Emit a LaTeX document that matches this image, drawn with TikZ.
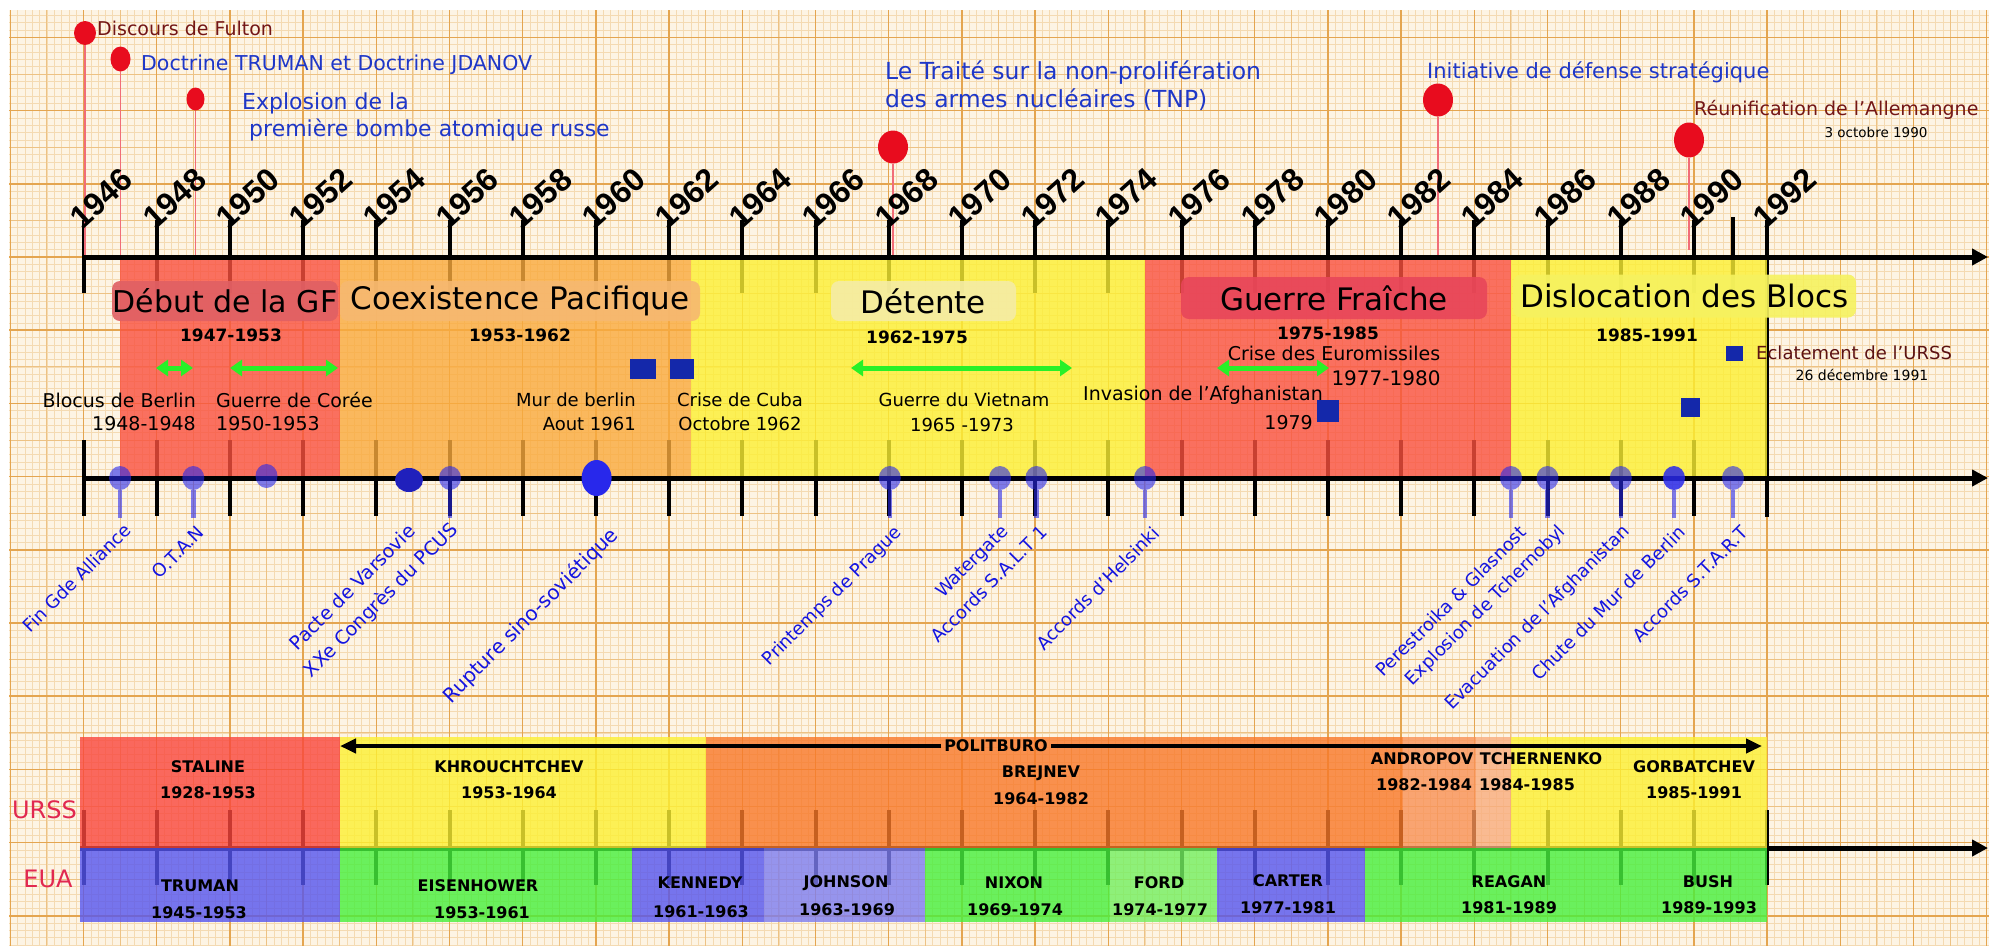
\documentclass[tikz,border=0pt]{standalone}
\usepackage{fontspec}
\setmainfont{DejaVu Sans}
\newfontfamily\yrfont{Liberation Sans}
\usetikzlibrary{arrows.meta,shapes.geometric}
\newcommand\myfs[1]{\fontsize{#1}{#1}\selectfont}
\definecolor{paper}{RGB}{253,244,228}
\definecolor{gfinec}{RGB}{244,218,178}
\definecolor{gmedc}{RGB}{237,194,132}
\definecolor{gmajc}{RGB}{228,165,80}
\definecolor{bandred}{RGB}{250,80,62}
\definecolor{bandorange}{RGB}{250,170,60}
\definecolor{bandyellow}{RGB}{252,240,50}
\definecolor{boxred}{RGB}{224,96,100}
\definecolor{boxorange}{RGB}{246,184,112}
\definecolor{boxyellow}{RGB}{245,236,165}
\definecolor{boxcrimson}{RGB}{232,70,90}
\definecolor{boxlemon}{RGB}{246,242,95}
\definecolor{pinred}{RGB}{232,12,30}
\definecolor{txtblue}{RGB}{30,55,200}
\definecolor{txtbrown}{RGB}{115,22,22}
\definecolor{evblue}{RGB}{20,20,225}
\definecolor{pinblue}{RGB}{40,40,235}
\definecolor{sqblue}{RGB}{20,40,170}
\definecolor{arrgreen}{RGB}{40,240,40}
\definecolor{ussrred}{RGB}{250,70,60}
\definecolor{brejorange}{RGB}{248,120,40}
\definecolor{andorange}{RGB}{248,145,85}
\definecolor{tchpeach}{RGB}{248,172,125}
\definecolor{usblue}{RGB}{85,85,240}
\definecolor{usblue2}{RGB}{125,125,240}
\definecolor{usgreen}{RGB}{70,240,60}
\definecolor{usgreen2}{RGB}{115,240,95}
\definecolor{labelred}{RGB}{225,40,80}
\tikzset{
 gfine/.style={draw=gfinec, line width=0.6pt},
 gmed/.style={draw=gmedc, line width=1pt},
 gmaj/.style={draw=gmajc, line width=1.5pt},
 axisline/.style={line width=5pt, black, -{Triangle[length=16pt,width=16pt]}},
 tickline/.style={line width=4pt, black},
 bandfill/.style={fill opacity=0.8},
 redpin/.style={ellipse, fill=pinred, inner sep=0pt},
 pinstem/.style={draw=pinred!60, line width=1.2pt},
 bluepin/.style={ellipse, fill=pinblue, fill opacity=0.6, inner sep=0pt, minimum width=22pt, minimum height=24pt},
 darkpin/.style={ellipse, fill=pinblue!80!black, inner sep=0pt},
 bluestem/.style={line width=4.5pt, draw=pinblue, draw opacity=0.6},
 evlabel/.style={text=evblue, font=\myfs{18}, rotate=45, anchor=east, inner sep=0pt},
 yearlbl/.style={font=\yrfont\bfseries\myfs{32}, rotate=42, anchor=south west, inner sep=0pt},
 sqbox/.style={fill=sqblue, inner sep=0pt},
 garrow/.style={line width=5pt, arrgreen, {Triangle[length=12pt,width=16pt]}-{Triangle[length=12pt,width=16pt]}},
 titlebox/.style={rounded corners=8pt, inner sep=0pt, font=\myfs{31}, fill opacity=0.9, text opacity=1},
 datelbl/.style={font=\bfseries\myfs{17}},
 evtext/.style={font=\myfs{19}, inner sep=0pt},
 lowtxt/.style={font=\bfseries\myfs{16}},
 toptxt/.style={anchor=west, inner sep=0pt, text=txtblue, font=\myfs{20}},
 polarrow/.style={line width=4pt, black, -{Triangle[length=16pt,width=14pt]}},
}
\begin{document}
\begin{tikzpicture}[x=1pt,y=-1pt]
\useasboundingbox (0,0) rectangle (1989,946);
\fill[white] (0,0) rectangle (1989,946);
\fill[paper] (9,10) rectangle (1989,946);
% graph paper
\begin{scope}
\clip (9,10) rectangle (1989,946);
\foreach \x in {10.3,17.62,...,1990} \draw[gfine] (\x,0) -- (\x,946);
\foreach \y in {0.8,8.12,...,950} \draw[gfine] (0,\y) -- (1989,\y);
\foreach \x in {10.3,46.9,...,1990} \draw[gmed] (\x,0) -- (\x,946);
\foreach \y in {0.8,37.4,...,950} \draw[gmed] (0,\y) -- (1989,\y);
\foreach \x in {10.3,83.5,...,1990} \draw[gmaj] (\x,0) -- (\x,946);
\foreach \y in {37.4,110.6,...,950} \draw[gmaj] (0,\y) -- (1989,\y);
\end{scope}
% ticks
\foreach \k in {0,...,23}{
 \pgfmathsetmacro\xx{83.5+73.2*\k}
 \draw[tickline] (\xx,220) -- (\xx,293);
 \draw[tickline] (\xx,440) -- (\xx,516);
 \draw[tickline] (\xx,810) -- (\xx,885);
}
\draw[tickline] (1732.6,217) -- (1732.6,290);
\draw[tickline] (1767.1,222) -- (1767.1,517);
% bottom axis (under the bands)
\coordinate (bA) at (80,848);
\coordinate (bB) at (1988,848);
\draw[axisline] (bA) -- (bB);
% red pins
\node[redpin, minimum width=22pt, minimum height=24pt] (pFul) at (85,33) {};
\node[redpin, minimum width=20pt, minimum height=25pt] (pDoc) at (120.5,59) {};
\node[redpin, minimum width=18pt, minimum height=23pt] (pExp) at (195.5,99) {};
\node[redpin, minimum width=30pt, minimum height=33pt] (pTNP) at (893,147) {};
\node[redpin, minimum width=30pt, minimum height=33pt] (pIDS) at (1438,100) {};
\node[redpin, minimum width=30pt, minimum height=35pt] (pReu) at (1689,140) {};
\coordinate (cFul) at (85,257);
\coordinate (cDoc) at (120.5,257);
\coordinate (cExp) at (195.5,257);
\coordinate (cTNP) at (893,257);
\coordinate (cIDS) at (1438,257);
\coordinate (cReu) at (1689,250);
\draw[pinstem] (pFul) -- (cFul);
\draw[pinstem] (pDoc) -- (cDoc);
\draw[pinstem] (pExp) -- (cExp);
\draw[pinstem] (pTNP) -- (cTNP);
\draw[pinstem] (pIDS) -- (cIDS);
\draw[pinstem] (pReu) -- (cReu);
% period bands
\fill[bandred, bandfill] (120.1,257) rectangle (339.7,478);
\fill[bandorange, bandfill] (339.7,257) rectangle (691,478);
\fill[bandyellow, bandfill] (691,257) rectangle (1145,478);
\fill[bandred, bandfill] (1145,257) rectangle (1511,478);
\fill[bandyellow, bandfill] (1511,257) rectangle (1767.1,478);
% leaders bands URSS
\fill[ussrred, bandfill] (80,737) rectangle (339.7,848);
\fill[bandyellow, bandfill] (339.7,737) rectangle (706,848);
\fill[brejorange, bandfill] (706,737) rectangle (1402.9,848);
\fill[andorange, bandfill] (1402.9,737) rectangle (1476.2,848);
\fill[tchpeach, bandfill] (1476.2,737) rectangle (1511,848);
\fill[bandyellow, bandfill] (1511,737) rectangle (1767.1,848);
% leaders bands EUA
\fill[usblue, bandfill] (80,848) rectangle (339.7,922);
\fill[usgreen, bandfill] (339.7,848) rectangle (632,922);
\fill[usblue, bandfill] (632,848) rectangle (764,922);
\fill[usblue2, bandfill] (764,848) rectangle (924.5,922);
\fill[usgreen, bandfill] (924.5,848) rectangle (1109.7,922);
\fill[usgreen2, bandfill] (1109.7,848) rectangle (1217,922);
\fill[usblue, bandfill] (1217,848) rectangle (1365,922);
\fill[usgreen, bandfill] (1365,848) rectangle (1767.1,922);
% top and middle axes
\coordinate (tA) at (83.5,257);
\coordinate (tB) at (1988,257);
\draw[axisline] (tA) -- (tB);
\coordinate (mA) at (83.5,478);
\coordinate (mB) at (1988,478);
\draw[axisline] (mA) -- (mB);
% year labels
\foreach \k in {0,...,23}{
 \pgfmathsetmacro\xx{83.5+73.2*\k}
 \pgfmathtruncatemacro\yy{1946+2*\k}
 \node[yearlbl] (y\yy) at (\xx-1,231) {\yy};
}
% top texts
\node[toptxt, text=txtbrown, font=\myfs{19}] (tFul) at (97,28) {Discours de Fulton};
\node[toptxt, font=\myfs{20.5}] (tDoc) at (141,65) {Doctrine TRUMAN et Doctrine JDANOV};
\node[toptxt, font=\myfs{22}] (tExp1) at (242,103) {Explosion de la};
\node[toptxt, font=\myfs{22}] (tExp2) at (249,130) {première bombe atomique russe};
\node[toptxt, font=\myfs{23.5}] (tTNP1) at (885,73) {Le Traité sur la non-prolifération};
\node[toptxt, font=\myfs{23.5}] (tTNP2) at (885,100) {des armes nucléaires (TNP)};
\node[toptxt, font=\myfs{21}] (tIDS) at (1427,72) {Initiative de défense stratégique};
\node[toptxt, text=txtbrown, font=\myfs{19}] (tReu) at (1694,110) {Réunification de l'Allemangne};
\node[inner sep=0pt, font=\myfs{13.5}] (tReu2) at (1876,132) {3 octobre 1990};
% period titles
\node[titlebox, fill=boxred, font=\myfs{30}, minimum width=226pt, minimum height=40pt] (hGF) at (225,301) {Début de la GF};
\node[titlebox, fill=boxorange, minimum width=360pt, minimum height=40pt] (hCP) at (520,301) {Coexistence Pacifique};
\node[titlebox, fill=boxyellow, minimum width=185pt, minimum height=40pt] (hDT) at (923.5,301) {Détente};
\node[titlebox, fill=boxcrimson, minimum width=306pt, minimum height=42pt] (hGFr) at (1334,298) {Guerre Fraîche};
\node[titlebox, fill=boxlemon, minimum width=343pt, minimum height=43pt] (hDB) at (1684.5,296) {Dislocation des Blocs};
\node[datelbl] (d1) at (231,335) {1947-1953};
\node[datelbl] (d2) at (520,335) {1953-1962};
\node[datelbl] (d3) at (917,337) {1962-1975};
\node[datelbl] (d4) at (1328,333) {1975-1985};
\node[datelbl] (d5) at (1647,335) {1985-1991};
% green arrows
\coordinate (gA1) at (156,368); \coordinate (gA2) at (193,368);
\coordinate (gB1) at (230,368); \coordinate (gB2) at (338,368);
\coordinate (gC1) at (851,368); \coordinate (gC2) at (1072,368);
\coordinate (gD1) at (1217,368); \coordinate (gD2) at (1329,368);
\draw[garrow] (gA1) -- (gA2);
\draw[garrow] (gB1) -- (gB2);
\draw[garrow] (gC1) -- (gC2);
\draw[garrow] (gD1) -- (gD2);
% event texts
\node[evtext, anchor=east] (eBlo) at (196,400) {Blocus de Berlin};
\node[evtext, anchor=east] (eBlo2) at (196,424) {1948-1948};
\node[evtext, anchor=west] (eCor) at (216,400) {Guerre de Corée};
\node[evtext, anchor=west] (eCor2) at (216,424) {1950-1953};
\node[evtext, font=\myfs{18}, anchor=east] (eMur) at (636,400) {Mur de berlin};
\node[evtext, font=\myfs{18}, anchor=east] (eMur2) at (636,424) {Aout 1961};
\node[evtext, font=\myfs{18}] (eCub) at (740,400) {Crise de Cuba};
\node[evtext, font=\myfs{18}] (eCub2) at (740,424) {Octobre 1962};
\node[evtext, font=\myfs{18}] (eVie) at (964,400) {Guerre du Vietnam};
\node[evtext, font=\myfs{18}] (eVie2) at (962,425) {1965 -1973};
\node[evtext, anchor=east] (eAfg) at (1323,395) {Invasion de l'Afghanistan};
\node[evtext, anchor=east] (eAfg2) at (1313,423) {1979};
\node[evtext] (eEur) at (1334,353) {Crise des Euromissiles};
\node[evtext, font=\myfs{20}] (eEur2) at (1386,378) {1977-1980};
% blue squares
\node[sqbox, minimum width=26pt, minimum height=20pt] (q1) at (643,369) {};
\node[sqbox, minimum width=24pt, minimum height=20pt] (q2) at (682,369) {};
\node[sqbox, minimum width=22pt, minimum height=22pt] (q3) at (1328,411) {};
\node[sqbox, minimum width=17pt, minimum height=15pt] (q4) at (1734.5,353.5) {};
\node[sqbox, minimum width=19pt, minimum height=19pt] (q5) at (1690.5,407.5) {};
\node[anchor=west, inner sep=0pt, text=txtbrown!80!black, font=\myfs{18}] (tEcl) at (1756,353) {Eclatement de l'URSS};
\node[inner sep=0pt, font=\myfs{14}] (tEcl2) at (1862,375) {26 décembre 1991};
% blue pins on middle axis
\node[bluepin] (b47) at (120.1,478) {};
\node[bluepin] (b49) at (193.3,478) {};
\node[bluepin] (b51) at (266.5,476) {};
\node[darkpin, minimum width=28pt, minimum height=24pt] (b55) at (409,480) {};
\node[bluepin] (b56) at (450,478) {};
\node[darkpin, fill=pinblue, minimum width=30pt, minimum height=36pt] (b60) at (596.6,478) {};
\node[bluepin] (b68) at (889.8,478) {};
\node[bluepin] (b71) at (1000,478) {};
\node[bluepin] (b72) at (1036.4,478) {};
\node[bluepin] (b75) at (1145,478) {};
\node[bluepin] (b85) at (1511,478) {};
\node[bluepin] (b86) at (1547.5,478) {};
\node[bluepin] (b88) at (1620.8,478) {};
\node[bluepin, fill opacity=0.85] (b89) at (1674,478) {};
\node[bluepin] (b91) at (1733,478) {};
\foreach \n/\x in {47/120.1,49/193.3,56/450,68/889.8,71/1000,72/1036.4,75/1145,85/1511,86/1547.5,88/1620.8,89/1674,91/1733}{
 \coordinate (s\n) at (\x,518);
 \draw[bluestem] (b\n) -- (s\n);
}
\node[evlabel] (l47) at (128,527) {Fin Gde Alliance};
\node[evlabel] (l49) at (201,529) {O.T.A.N};
\node[evlabel, font=\myfs{19}] (l55) at (412,527) {Pacte de Varsovie};
\node[evlabel, font=\myfs{19}] (l56) at (455,527) {XXe Congrès du PCUS};
\node[evlabel, font=\myfs{20}] (l60) at (615,532) {Rupture sino-soviétique};
\node[evlabel] (l68) at (899,530) {Printemps de Prague};
\node[evlabel] (l71) at (1006,529) {Watergate};
\node[evlabel] (l72) at (1044,529) {Accords S.A.L.T 1};
\node[evlabel] (l75) at (1156,530) {Accords d'Helsinki};
\node[evlabel] (l85) at (1523,529) {Perestroika \& Glasnost};
\node[evlabel] (l86) at (1563,529) {Explosion de Tchernobyl};
\node[evlabel] (l88) at (1627,529) {Evacuation de l'Afghanistan};
\node[evlabel] (l89) at (1682,529) {Chute du Mur de Berlin};
\node[evlabel] (l91) at (1745,529) {Accords S.T.A.R.T};
% politburo
\node[lowtxt, inner sep=3pt] (pol) at (996,746) {POLITBURO};
\coordinate (polL) at (340,746);
\coordinate (polR) at (1762,746);
\draw[polarrow] (pol.west) -- (polL);
\draw[polarrow] (pol.east) -- (polR);
% leaders
\node[lowtxt] (nSta) at (208,767) {STALINE};
\node[lowtxt] (nSta2) at (208,793) {1928-1953};
\node[lowtxt] (nKhr) at (509,767) {KHROUCHTCHEV};
\node[lowtxt] (nKhr2) at (509,793) {1953-1964};
\node[lowtxt] (nBre) at (1041,773) {BREJNEV};
\node[lowtxt] (nBre2) at (1041,799) {1964-1982};
\node[lowtxt] (nAnd) at (1422,759) {ANDROPOV};
\node[lowtxt] (nAnd2) at (1424,785) {1982-1984};
\node[lowtxt] (nTch) at (1541,759) {TCHERNENKO};
\node[lowtxt] (nTch2) at (1527,785) {1984-1985};
\node[lowtxt] (nGor) at (1694,767) {GORBATCHEV};
\node[lowtxt] (nGor2) at (1694,793) {1985-1991};
\node[lowtxt] (nTru) at (200,886) {TRUMAN};
\node[lowtxt] (nTru2) at (199,913) {1945-1953};
\node[lowtxt] (nEis) at (478,886) {EISENHOWER};
\node[lowtxt] (nEis2) at (482,913) {1953-1961};
\node[lowtxt] (nKen) at (700,883) {KENNEDY};
\node[lowtxt] (nKen2) at (701,912) {1961-1963};
\node[lowtxt] (nJoh) at (846,883) {JOHNSON};
\node[lowtxt] (nJoh2) at (847,910) {1963-1969};
\node[lowtxt] (nNix) at (1014,883) {NIXON};
\node[lowtxt] (nNix2) at (1015,910) {1969-1974};
\node[lowtxt] (nFor) at (1159,883) {FORD};
\node[lowtxt] (nFor2) at (1160,910) {1974-1977};
\node[lowtxt] (nCar) at (1288,881) {CARTER};
\node[lowtxt] (nCar2) at (1288,908) {1977-1981};
\node[lowtxt] (nRea) at (1509,882) {REAGAN};
\node[lowtxt] (nRea2) at (1509,908) {1981-1989};
\node[lowtxt] (nBus) at (1708,882) {BUSH};
\node[lowtxt] (nBus2) at (1709,908) {1989-1993};
\node[text=labelred, font=\myfs{24}, inner sep=0pt] (lURSS) at (44.5,810) {URSS};
\node[text=labelred, font=\myfs{24}, inner sep=0pt] (lEUA) at (48,879) {EUA};
\end{tikzpicture}
\end{document}
